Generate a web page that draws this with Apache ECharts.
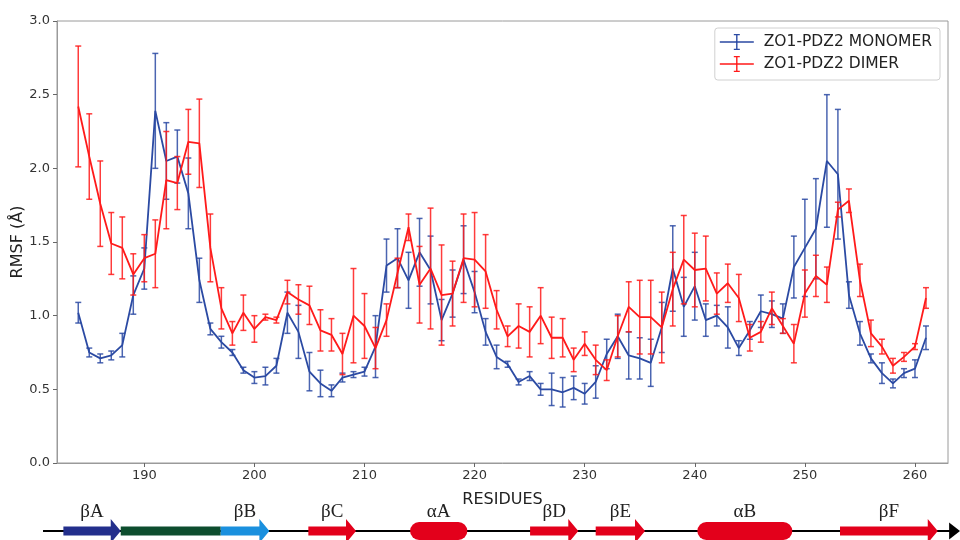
<!DOCTYPE html>
<html>
<head>
<meta charset="utf-8">
<script src="https://cdn.jsdelivr.net/npm/echarts@6/dist/echarts.min.js"></script>
<style>
  html, body { margin: 0; padding: 0; background: #fff; }
  #chart { width: 960px; height: 540px; }
</style>
</head>
<body>
<div id="chart"></div>
<script>
// residue numbers on the x axis
const residues = [
  184, 185, 186, 187, 188, 189, 190, 191, 192, 193,
  194, 195, 196, 197, 198, 199, 200, 201, 202, 203,
  204, 205, 206, 207, 208, 209, 210, 211, 212, 213,
  214, 215, 216, 217, 218, 219, 220, 221, 222, 223,
  224, 225, 226, 227, 228, 229, 230, 231, 232, 233,
  234, 235, 236, 237, 238, 239, 240, 241, 242, 243,
  244, 245, 246, 247, 248, 249, 250, 251, 252, 253,
  254, 255, 256, 257, 258, 259, 260, 261
];
const xTicks = [190, 200, 210, 220, 230, 240, 250, 260];

// ZO1-PDZ2 monomer RMSF (Å) and its error
const monomerMean = [
  1.02, 0.75, 0.71, 0.73, 0.80, 1.14, 1.32, 2.39, 2.05, 2.08,
  1.83, 1.24, 0.91, 0.82, 0.75, 0.63, 0.58, 0.59, 0.66, 1.02,
  0.89, 0.62, 0.54, 0.49, 0.58, 0.60, 0.62, 0.79, 1.34, 1.39,
  1.24, 1.43, 1.31, 0.97, 1.15, 1.38, 1.16, 0.89, 0.72, 0.67,
  0.55, 0.59, 0.50, 0.50, 0.48, 0.51, 0.47, 0.55, 0.74, 0.86,
  0.73, 0.71, 0.68, 0.92, 1.32, 1.06, 1.20, 0.97, 1.00, 0.92,
  0.78, 0.90, 1.03, 1.01, 0.98, 1.33, 1.46, 1.59, 2.05, 1.96,
  1.14, 0.88, 0.71, 0.61, 0.54, 0.61, 0.64, 0.85
];
const monomerErr = [
  0.07, 0.03, 0.03, 0.03, 0.08, 0.13, 0.14, 0.39, 0.26, 0.18,
  0.24, 0.15, 0.04, 0.04, 0.02, 0.02, 0.04, 0.06, 0.05, 0.14,
  0.18, 0.13, 0.09, 0.04, 0.03, 0.02, 0.03, 0.21, 0.18, 0.20,
  0.19, 0.23, 0.23, 0.14, 0.16, 0.23, 0.14, 0.09, 0.08, 0.02,
  0.02, 0.03, 0.04, 0.11, 0.10, 0.08, 0.07, 0.11, 0.10, 0.15,
  0.16, 0.14, 0.16, 0.17, 0.29, 0.20, 0.23, 0.11, 0.07, 0.14,
  0.05, 0.06, 0.11, 0.09, 0.10, 0.21, 0.33, 0.34, 0.45, 0.44,
  0.09, 0.08, 0.03, 0.07, 0.03, 0.03, 0.06, 0.08
];

// ZO1-PDZ2 dimer RMSF (Å) and its error
const dimerMean = [
  2.42, 2.08, 1.76, 1.49, 1.46, 1.28, 1.39, 1.42, 1.92, 1.90,
  2.18, 2.17, 1.46, 1.05, 0.88, 1.02, 0.91, 0.99, 0.97, 1.16,
  1.11, 1.07, 0.90, 0.87, 0.74, 1.00, 0.93, 0.78, 0.97, 1.29,
  1.60, 1.21, 1.32, 1.14, 1.15, 1.39, 1.38, 1.30, 1.04, 0.86,
  0.93, 0.89, 1.00, 0.85, 0.85, 0.70, 0.81, 0.70, 0.63, 0.86,
  1.06, 0.99, 0.99, 0.92, 1.18, 1.38, 1.31, 1.32, 1.15, 1.22,
  1.12, 0.85, 0.89, 1.05, 0.93, 0.81, 1.15, 1.27, 1.21, 1.72,
  1.78, 1.24, 0.88, 0.79, 0.66, 0.72, 0.79, 1.12
];
const dimerErr = [
  0.41, 0.29, 0.29, 0.21, 0.21, 0.14, 0.16, 0.23, 0.33, 0.18,
  0.22, 0.30, 0.23, 0.14, 0.08, 0.12, 0.09, 0.02, 0.02, 0.08,
  0.10, 0.13, 0.14, 0.11, 0.14, 0.32, 0.22, 0.14, 0.11, 0.10,
  0.09, 0.26, 0.41, 0.34, 0.22, 0.30, 0.32, 0.25, 0.13, 0.07,
  0.15, 0.17, 0.19, 0.14, 0.13, 0.08, 0.08, 0.10, 0.07, 0.14,
  0.17, 0.25, 0.25, 0.24, 0.25, 0.30, 0.25, 0.22, 0.14, 0.13,
  0.16, 0.09, 0.07, 0.11, 0.05, 0.13, 0.16, 0.14, 0.12, 0.05,
  0.08, 0.11, 0.09, 0.05, 0.05, 0.03, 0.02, 0.07
];

// secondary structure under the axis (residue ranges)
const ssLabels = ['βA', '', 'βB', 'βC', 'αA', 'βD', 'βE', 'αB', 'βF'];
const ssKind   = ['strand', 'bar', 'strand', 'strand', 'helix', 'strand', 'strand', 'helix', 'strand'];
const ssStart  = [182.65, 187.86, 196.94, 204.9, 214.14, 225.04, 231.0, 240.23, 253.19];
const ssEnd    = [187.86, 196.94, 201.36, 209.23, 219.34, 229.42, 235.48, 248.86, 262.07];
const chainStart = 180.8;
const chainEnd = 264.1;

const ssColors = ['#232f8c', '#0d4d2e', '#1a90de', '#e3001b', '#e3001b', '#e3001b', '#e3001b', '#e3001b', '#e3001b'];
const BLUE = '#2b4aa3';
const RED = '#ff1a1a';
const FONT = 'DejaVu Sans';

const xMin = 182.07;
const xMax = 263.0;

let chart = echarts.init(document.getElementById('chart'));

function errorBars (color) {
  return function (params, api) {
    let x = api.value(0);
    let lo = api.coord([x, api.value(1)]);
    let hi = api.coord([x, api.value(2)]);
    let cap = 3;
    let style = { stroke: color, lineWidth: 1.5, opacity: 0.85 };
    return {
      type: 'group',
      children: [
        { type: 'line', shape: { x1: hi[0], y1: hi[1], x2: lo[0], y2: lo[1] }, style: style },
        { type: 'line', shape: { x1: hi[0] - cap, y1: hi[1], x2: hi[0] + cap, y2: hi[1] }, style: style },
        { type: 'line', shape: { x1: lo[0] - cap, y1: lo[1], x2: lo[0] + cap, y2: lo[1] }, style: style }
      ]
    };
  };
}

function arrowPoints (x0, x1, y, body, head, headLen) {
  let xh = x1 - headLen;
  return [
    [x0, y - body], [xh, y - body], [xh, y - head], [x1, y],
    [xh, y + head], [xh, y + body], [x0, y + body]
  ];
}

function secondaryItem (params, api) {
  let i = api.value(2);
  let p0 = api.coord([api.value(0), 0.5]);
  let p1 = api.coord([api.value(1), 0.5]);
  let y = p0[1];
  if (i < 0) {
    // backbone line with black arrow head
    return {
      type: 'group',
      children: [
        { type: 'line', shape: { x1: p0[0], y1: y, x2: p1[0] - 8, y2: y }, style: { stroke: '#000', lineWidth: 2 } },
        { type: 'polygon', shape: { points: arrowPoints(p1[0] - 11, p1[0], y, 0, 8.5, 11) }, style: { fill: '#000' } }
      ]
    };
  }
  let color = ssColors[i];
  let kind = ssKind[i];
  let children = [];
  if (kind === 'strand') {
    children.push({ type: 'polygon', shape: { points: arrowPoints(p0[0], p1[0], y, 4.5, 12, 10) }, style: { fill: color } });
  } else if (kind === 'helix') {
    children.push({ type: 'rect', shape: { x: p0[0], y: y - 9, width: p1[0] - p0[0], height: 18, r: 9 }, style: { fill: color } });
  } else {
    children.push({ type: 'rect', shape: { x: p0[0], y: y - 4.5, width: p1[0] - p0[0], height: 9 }, style: { fill: color } });
  }
  if (ssLabels[i]) {
    children.push({
      type: 'text',
      style: {
        text: ssLabels[i],
        x: (p0[0] + p1[0]) / 2,
        y: y - 19,
        align: 'center',
        verticalAlign: 'middle',
        fill: '#222',
        font: '19px "Liberation Serif", "DejaVu Serif", serif'
      }
    });
  }
  return { type: 'group', children: children };
}

let monomerLine = residues.map((r, i) => [r, monomerMean[i]]);
let dimerLine = residues.map((r, i) => [r, dimerMean[i]]);
let monomerBars = residues.map((r, i) => [r, monomerMean[i] - monomerErr[i], monomerMean[i] + monomerErr[i]]);
let dimerBars = residues.map((r, i) => [r, dimerMean[i] - dimerErr[i], dimerMean[i] + dimerErr[i]]);
let ssData = [[chainStart, chainEnd, -1]].concat(ssStart.map((s, i) => [s, ssEnd[i], i]));

const legendIcon = 'path://M0,7.3L34,7.3L34,8.7L0,8.7Z M16.3,0L17.7,0L17.7,16L16.3,16Z M14,0L20,0L20,1.2L14,1.2Z M14,14.8L20,14.8L20,16L14,16Z';

let option = {
  animation: false,
  backgroundColor: '#fff',
  textStyle: { fontFamily: FONT },
  grid: [
    { left: 57, right: 12, top: 21, bottom: 77, show: true, borderColor: '#9a9a9a', borderWidth: 1, containLabel: false, outerBoundsMode: 'none' },
    { left: 57, right: 12, top: 521, height: 20, containLabel: false, outerBoundsMode: 'none' }
  ],
  legend: {
    orient: 'vertical',
    top: 28,
    right: 20,
    padding: [6, 8, 8, 5],
    borderColor: '#d0d0d0',
    borderWidth: 1,
    borderRadius: 3,
    backgroundColor: '#fff',
    itemWidth: 34,
    itemHeight: 16,
    itemGap: 6,
    formatter: name => ' ' + name,
    textStyle: { fontFamily: FONT, fontSize: 15.5, color: '#222' },
    data: [
      { name: 'ZO1-PDZ2 MONOMER', icon: legendIcon },
      { name: 'ZO1-PDZ2 DIMER', icon: legendIcon }
    ]
  },
  xAxis: [
    {
      gridIndex: 0,
      type: 'value',
      min: xMin,
      max: xMax,
      name: 'RESIDUES',
      nameLocation: 'middle',
      nameGap: 29,
      nameMoveOverlap: false,
      nameTextStyle: { fontFamily: FONT, fontSize: 16, color: '#222' },
      axisLine: { show: true, lineStyle: { color: '#9a9a9a' } },
      axisTick: { show: true, length: 4, customValues: xTicks, lineStyle: { color: '#666' } },
      axisLabel: { customValues: xTicks, fontFamily: FONT, fontSize: 13, color: '#333', margin: 6 },
      splitLine: { show: false }
    },
    { gridIndex: 1, type: 'value', min: xMin, max: xMax, show: false }
  ],
  yAxis: [
    {
      gridIndex: 0,
      type: 'value',
      min: 0,
      max: 3,
      interval: 0.5,
      name: 'RMSF (Å)',
      nameLocation: 'middle',
      nameRotate: 90,
      nameGap: 31,
      nameMoveOverlap: false,
      nameTextStyle: { fontFamily: FONT, fontSize: 16, color: '#222' },
      axisLine: { show: true, lineStyle: { color: '#9a9a9a' } },
      axisTick: { show: true, length: 4, lineStyle: { color: '#666' } },
      axisLabel: { formatter: v => v.toFixed(1), fontFamily: FONT, fontSize: 13, color: '#333', margin: 7 },
      splitLine: { show: false }
    },
    { gridIndex: 1, type: 'value', min: 0, max: 1, show: false }
  ],
  series: [
    {
      name: 'ZO1-PDZ2 MONOMER',
      type: 'line',
      data: monomerLine,
      symbol: 'none',
      color: BLUE,
      lineStyle: { color: BLUE, width: 1.8 },
      z: 2
    },
    {
      name: 'ZO1-PDZ2 MONOMER',
      type: 'custom',
      data: monomerBars,
      encode: { x: 0, y: [1, 2] },
      renderItem: errorBars(BLUE),
      color: BLUE,
      z: 2
    },
    {
      name: 'ZO1-PDZ2 DIMER',
      type: 'line',
      data: dimerLine,
      symbol: 'none',
      color: RED,
      lineStyle: { color: RED, width: 1.8 },
      z: 3
    },
    {
      name: 'ZO1-PDZ2 DIMER',
      type: 'custom',
      data: dimerBars,
      encode: { x: 0, y: [1, 2] },
      renderItem: errorBars(RED),
      color: RED,
      z: 3
    },
    {
      type: 'custom',
      xAxisIndex: 1,
      yAxisIndex: 1,
      data: ssData,
      clip: false,
      silent: true,
      encode: { x: [0, 1], y: 2 },
      renderItem: secondaryItem
    }
  ]
};

chart.setOption(option);
</script>
</body>
</html>
